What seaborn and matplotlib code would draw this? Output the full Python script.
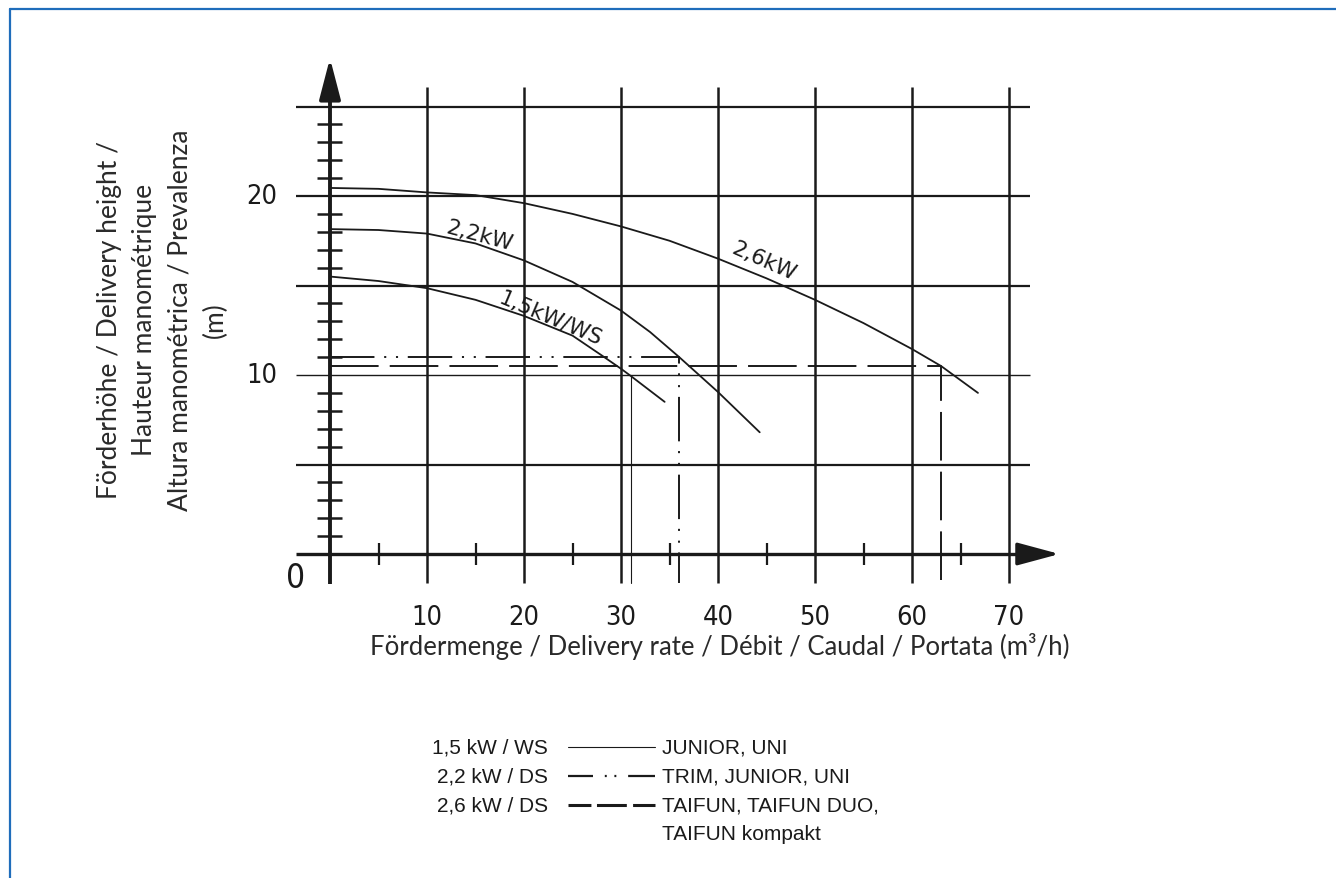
import numpy as np
import pandas as pd
import seaborn as sns
import matplotlib.pyplot as plt
from matplotlib.lines import Line2D

# pump curves (Q in m3/h, H in m)
q_15 = [0, 5, 10, 15, 20, 25, 28, 30, 31, 34.5]
h_15 = [15.5, 15.25, 14.85, 14.2, 13.3, 12.2, 11.1, 10.35, 9.95, 8.5]
q_22 = [0, 5, 10, 15, 20, 25, 30, 33, 36, 40, 44.3]
h_22 = [18.15, 18.1, 17.9, 17.35, 16.4, 15.2, 13.6, 12.4, 11.0, 9.05, 6.8]
q_26 = [0, 5, 10, 15, 20, 25, 30, 35, 40, 45, 50, 55, 60, 63, 66.8]
h_26 = [20.45, 20.4, 20.2, 20.05, 19.6, 19.0, 18.3, 17.5, 16.5, 15.4, 14.2, 12.9, 11.45, 10.5, 9.0]

curve_names = ['1,5kW/WS', '2,2kW', '2,6kW']

# operating points (drop lines)
op_q = [31, 36, 63]
op_h = [9.95, 11.0, 10.5]

x_grid = [10, 20, 30, 40, 50, 60, 70]
y_grid = [5, 10, 15, 20, 25]
x_minor = [5, 15, 25, 35, 45, 55, 65]
y_minor = [v for v in range(1, 25) if v % 5 != 0]
y_labels = [10, 20]

legend_left = ['1,5 kW / WS', '2,2 kW / DS', '2,6 kW / DS', '']
legend_right = ['JUNIOR, UNI', 'TRIM, JUNIOR, UNI', 'TAIFUN, TAIFUN DUO,', 'TAIFUN kompakt']

df = pd.concat([
    pd.DataFrame({'q': q_15, 'h': h_15, 'curve': curve_names[0]}),
    pd.DataFrame({'q': q_22, 'h': h_22, 'curve': curve_names[1]}),
    pd.DataFrame({'q': q_26, 'h': h_26, 'curve': curve_names[2]}),
])

sns.set_style('white')
plt.rcParams['lines.scale_dashes'] = False
ink = '#1a1a1a'
digits = dict(family=['DejaVu Sans'], stretch='condensed')

W, H = 1336, 879
fig = plt.figure(figsize=(W / 100, H / 100), dpi=100)
ax = fig.add_axes([291.2 / W, 1 - 590.8 / H, 776 / W, 537 / H])
ax.set_xlim(-4, 76)
ax.set_ylim(-2, 28)
ax.axis('off')

# grid
for g in y_grid:
    ax.hlines(g, -3.5, 72.2, color=ink, lw=1.0 if g == 10 else 1.6)
ax.vlines(x_grid, -1.6, 26.1, color=ink, lw=1.8)

# axes with arrows
ax.hlines(0, -3.5, 73, color=ink, lw=2.4)
ax.vlines(0, -1.7, 26, color=ink, lw=2.8)
ax.annotate('', xy=(75.2, 0), xytext=(71, 0),
            arrowprops=dict(arrowstyle='-|>,head_length=2.6,head_width=0.7',
                            color=ink, lw=2.4, shrinkA=0, shrinkB=0))
ax.annotate('', xy=(0, 27.7), xytext=(0, 25.5),
            arrowprops=dict(arrowstyle='-|>,head_length=2.5,head_width=0.65',
                            color=ink, lw=2.8, shrinkA=0, shrinkB=0))
ax.hlines(y_minor, -1.35, 1.25, color=ink, lw=1.8)
ax.vlines(x_minor, -0.6, 0.6, color=ink, lw=1.6)

# curves
sns.lineplot(data=df, x='q', y='h', hue='curve', palette=[ink] * 3,
             estimator=None, sort=False, lw=1.3, legend=False, ax=ax)

# operating point lines
ax.plot([op_q[0], op_q[0]], [op_h[0], -1.6], color=ink, lw=0.8)
ax.plot([0, op_q[1], op_q[1]], [op_h[1], op_h[1], -1.6], color=ink, lw=1.4,
        ls=(0, (32, 7, 1.5, 7, 1.5, 7)))
ax.plot([0, op_q[2], op_q[2]], [op_h[2], op_h[2], -1.6], color=ink, lw=1.4,
        ls=(0, (35, 8)))

# tick labels
for v in x_grid:
    ax.text(v, -3.5, str(v), ha='center', va='center', fontsize=19.5,
            color=ink, **digits)
for v in y_labels:
    ax.text(-7.0, v, str(v), ha='center', va='center', fontsize=19.5,
            color=ink, **digits)
ax.text(-3.5, -1.3, '0', ha='center', va='center', fontsize=24,
        color=ink, **digits)

# curve labels
ax.text(15.4, 17.8, curve_names[1], rotation=-15, ha='center', va='center',
        fontsize=15.5, color=ink, rotation_mode='anchor')
ax.text(22.7, 13.2, curve_names[0], rotation=-23, ha='center', va='center',
        fontsize=15.5, color=ink, rotation_mode='anchor')
ax.text(44.7, 16.4, curve_names[2], rotation=-24, ha='center', va='center',
        fontsize=15.5, color=ink, rotation_mode='anchor')

# axis titles
lab = ['Lato', 'DejaVu Sans']
fig.text(162.5 / W, 1 - 320 / H,
         'Förderhöhe / Delivery height /\nHauteur manométrique\n'
         'Altura manométrica / Prevalenza\n(m)',
         rotation=90, ha='center', va='center', multialignment='center',
         fontsize=19, family=lab, color='#2a2a2a', linespacing=1.52)
fig.text(720 / W, 1 - 647 / H,
         'Fördermenge / Delivery rate / Débit / Caudal / Portata (m³/h)',
         ha='center', va='center', fontsize=18.5, family=lab, color='#2a2a2a')

# legend at bottom
rows = [748, 777, 806, 835]
styles = [dict(lw=0.8),
          dict(lw=1.6, ls=(0, (18, 8.5, 1.4, 5.5, 1.4, 8.5, 30, 10))),
          dict(lw=2.2, ls=(0, (16.5, 4, 21.5, 4.5, 30, 10)))]
for i in range(4):
    fy = 1 - rows[i] / H
    if legend_left[i]:
        fig.text(548 / W, fy, legend_left[i], ha='right', va='center',
                 fontsize=15, family='Liberation Sans', color=ink)
        fig.add_artist(Line2D([568 / W, 655 / W], [fy, fy], color=ink, **styles[i]))
    fig.text(662 / W, fy, legend_right[i], ha='left', va='center',
             fontsize=15, family='Liberation Sans', color=ink)

# blue frame (top and left)
blue = '#1f6dbb'
fig.add_artist(Line2D([9.5 / W, 1], [1 - 10 / H, 1 - 10 / H], color=blue, lw=1.6))
fig.add_artist(Line2D([9.5 / W, 9.5 / W], [0, 1 - 10 / H], color=blue, lw=1.6))

fig.savefig('out.png', dpi=100, facecolor='white')
